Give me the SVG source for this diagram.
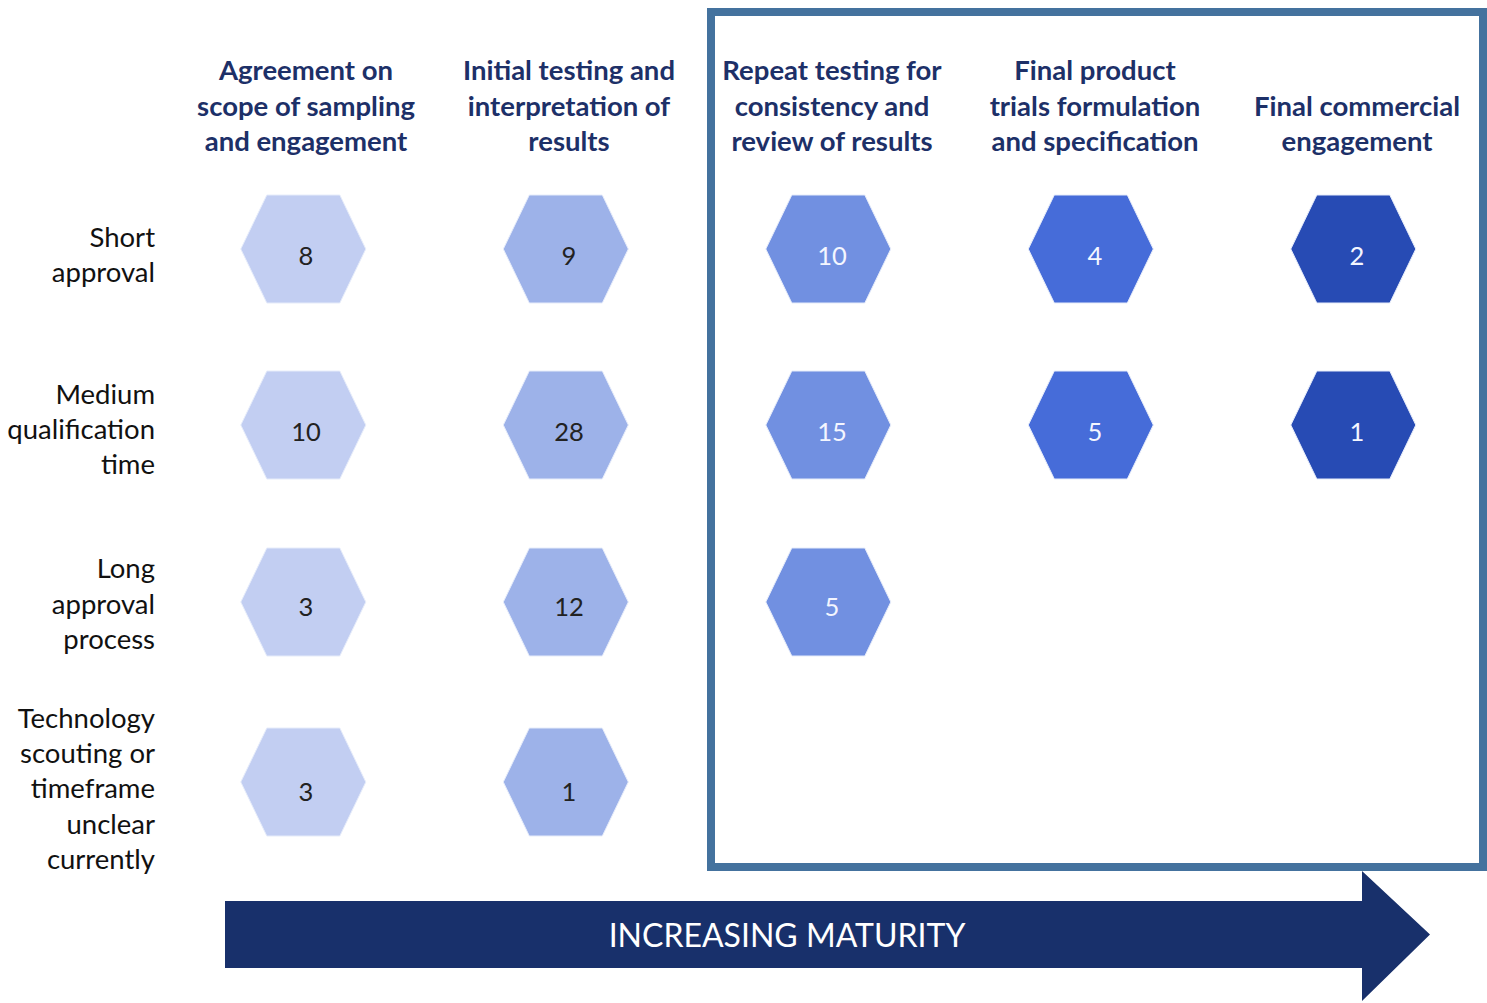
<svg xmlns="http://www.w3.org/2000/svg" width="1487" height="1003" viewBox="0 0 1487 1003">
<style>
.hdr{font-family:Lato,"Open Sans","Liberation Sans",sans-serif;font-weight:bold;font-size:27.5px;fill:#1D3068;text-anchor:middle}
.lbl{font-family:Lato,"Open Sans","Liberation Sans",sans-serif;font-size:27.5px;fill:#111;text-anchor:end}
.num{font-family:Lato,"Open Sans","Liberation Sans",sans-serif;font-size:25.5px;text-anchor:middle}
.dk{fill:#222}
.lt{fill:#F4F6FF}
.c1{fill:#C2CEF2}
.c2{fill:#9DB2E9}
.c3{fill:#7190E1}
.c4{fill:#466CD9}
.c5{fill:#274BB4}
.hx{stroke:#E6ECFA;stroke-width:1}
.arrtxt{font-family:Lato,"Open Sans","Liberation Sans",sans-serif;font-size:32px;fill:#FFFFFF;text-anchor:middle}
</style>
<defs>
<polygon id="hex" points="-62.5,0 -36.5,-54 36.5,-54 62.5,0 36.5,54 -36.5,54"/>
</defs>
<rect width="1487" height="1003" fill="#FFFFFF"/>

<g id="maturity-box">
<rect x="711" y="12" width="772" height="855" fill="none" stroke="#44729E" stroke-width="8"/>
</g>

<g id="headers">
<g id="header-1"><text class="hdr" x="306" y="80">Agreement on</text><text class="hdr" x="306" y="115.5">scope of sampling</text><text class="hdr" x="306" y="151">and engagement</text></g>
<g id="header-2"><text class="hdr" x="569" y="80">Initial testing and</text><text class="hdr" x="569" y="115.5">interpretation of</text><text class="hdr" x="569" y="151">results</text></g>
<g id="header-3"><text class="hdr" x="832" y="80">Repeat testing for</text><text class="hdr" x="832" y="115.5">consistency and</text><text class="hdr" x="832" y="151">review of results</text></g>
<g id="header-4"><text class="hdr" x="1095" y="80">Final product</text><text class="hdr" x="1095" y="115.5">trials formulation</text><text class="hdr" x="1095" y="151">and specification</text></g>
<g id="header-5"><text class="hdr" x="1357" y="115.5">Final commercial</text><text class="hdr" x="1357" y="151">engagement</text></g>
</g>

<g id="row-labels">
<g id="label-1"><text class="lbl" x="155" y="247">Short</text><text class="lbl" x="155" y="282">approval</text></g>
<g id="label-2"><text class="lbl" x="155" y="404">Medium</text><text class="lbl" x="155" y="439">qualification</text><text class="lbl" x="155" y="474">time</text></g>
<g id="label-3"><text class="lbl" x="155" y="578">Long</text><text class="lbl" x="155" y="614">approval</text><text class="lbl" x="155" y="649">process</text></g>
<g id="label-4"><text class="lbl" x="155" y="728">Technology</text><text class="lbl" x="155" y="763">scouting or</text><text class="lbl" x="155" y="798">timeframe</text><text class="lbl" x="155" y="834">unclear</text><text class="lbl" x="155" y="869">currently</text></g>
</g>

<g id="hexagons">
<g id="h-1-1"><use href="#hex" class="c1 hx" transform="translate(303.3,249)"/><text class="num dk" x="306" y="265">8</text></g>
<g id="h-1-2"><use href="#hex" class="c2 hx" transform="translate(565.8,249)"/><text class="num dk" x="569" y="265">9</text></g>
<g id="h-1-3"><use href="#hex" class="c3 hx" transform="translate(828.3,249)"/><text class="num lt" x="832" y="265">10</text></g>
<g id="h-1-4"><use href="#hex" class="c4 hx" transform="translate(1090.8,249)"/><text class="num lt" x="1095" y="265">4</text></g>
<g id="h-1-5"><use href="#hex" class="c5 hx" transform="translate(1353.3,249)"/><text class="num lt" x="1357" y="265">2</text></g>

<g id="h-2-1"><use href="#hex" class="c1 hx" transform="translate(303.3,425)"/><text class="num dk" x="306" y="441">10</text></g>
<g id="h-2-2"><use href="#hex" class="c2 hx" transform="translate(565.8,425)"/><text class="num dk" x="569" y="441">28</text></g>
<g id="h-2-3"><use href="#hex" class="c3 hx" transform="translate(828.3,425)"/><text class="num lt" x="832" y="441">15</text></g>
<g id="h-2-4"><use href="#hex" class="c4 hx" transform="translate(1090.8,425)"/><text class="num lt" x="1095" y="441">5</text></g>
<g id="h-2-5"><use href="#hex" class="c5 hx" transform="translate(1353.3,425)"/><text class="num lt" x="1357" y="441">1</text></g>

<g id="h-3-1"><use href="#hex" class="c1 hx" transform="translate(303.3,602)"/><text class="num dk" x="306" y="616">3</text></g>
<g id="h-3-2"><use href="#hex" class="c2 hx" transform="translate(565.8,602)"/><text class="num dk" x="569" y="616">12</text></g>
<g id="h-3-3"><use href="#hex" class="c3 hx" transform="translate(828.3,602)"/><text class="num lt" x="832" y="616">5</text></g>

<g id="h-4-1"><use href="#hex" class="c1 hx" transform="translate(303.3,782)"/><text class="num dk" x="306" y="801">3</text></g>
<g id="h-4-2"><use href="#hex" class="c2 hx" transform="translate(565.8,782)"/><text class="num dk" x="569" y="801">1</text></g>
</g>

<g id="arrow">
<polygon points="225,901 1362,901 1362,871 1430,934.5 1362,1001 1362,968 225,968" fill="#18306B"/>
<text class="arrtxt" x="787" y="947">INCREASING MATURITY</text>
</g>
</svg>
